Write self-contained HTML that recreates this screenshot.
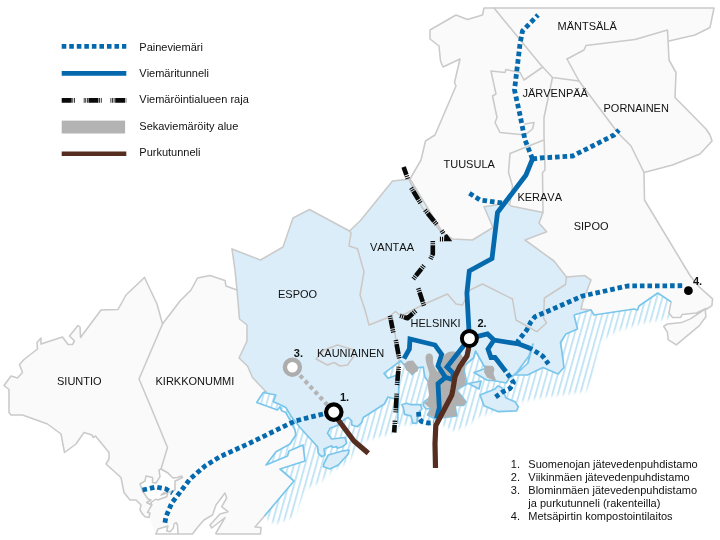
<!DOCTYPE html>
<html><head><meta charset="utf-8">
<style>
html,body{margin:0;padding:0;background:#fff;}
body{width:720px;height:540px;overflow:hidden;position:relative;font-family:"Liberation Sans",sans-serif;}
svg{position:absolute;left:0;top:0;display:block;}
text{font-family:"Liberation Sans",sans-serif;font-size:11px;fill:#111;font-kerning:none;}
.b{font-weight:bold;}
.land{fill:#fafafa;stroke:none;}
.lb{fill:none;stroke:#cacaca;stroke-width:1.55;stroke-linejoin:round;stroke-linecap:round;}
.blue{fill:#daedf9;stroke:none;}
.ib{fill:none;stroke:#cdc7c4;stroke-width:1.5;stroke-linejoin:round;}
.coast{fill:none;stroke:#7ac6eb;stroke-width:1.7;stroke-linejoin:round;}
.isl{fill:#daedf9;stroke:#7ac6eb;stroke-width:1.7;stroke-linejoin:round;}
.sew{fill:#b0b0b0;stroke:none;}
.tun{fill:none;stroke:#0569ad;stroke-width:4.8;stroke-linejoin:miter;stroke-linecap:butt;}
.dot{fill:none;stroke:#0569ad;stroke-width:4.8;stroke-dasharray:4.6 2.94;stroke-linejoin:round;}
.gdot{fill:none;stroke:#b4b4b4;stroke-width:4.2;stroke-dasharray:4 3.3;}
.brn{fill:none;stroke:#562e20;stroke-width:5.2;stroke-linejoin:round;stroke-linecap:butt;}
.rj{fill:none;stroke:#0a0a0a;stroke-width:4.6;stroke-linejoin:round;stroke-linecap:butt;}
.raja{fill:none;stroke:#0a0a0a;stroke-width:4.8;stroke-dasharray:10 0.7 0.8 0.9 0.8 8.85 0.8 0.8 0.8 0.8 0.8 0.7;stroke-linejoin:round;}
</style></head><body>
<svg width="720" height="540" viewBox="0 0 720 540">
<defs>
<pattern id="hatch" width="5.35" height="10" patternUnits="userSpaceOnUse" patternTransform="rotate(15.5)">
<rect x="0" y="0" width="1.95" height="10" fill="#c3e4f5"/>
</pattern>
</defs>
<rect width="720" height="540" fill="#fff"/>

<!-- HATCH BAND -->
<defs>
<filter id="soft" x="-5%" y="-5%" width="110%" height="110%"><feGaussianBlur stdDeviation="1.4"/></filter>
<mask id="hm" maskUnits="userSpaceOnUse" x="0" y="0" width="720" height="540">
<rect width="720" height="540" fill="#000"/>
<polygon filter="url(#soft)" fill="#fff" points="256,395 258,470 264,517 275,524.5 293.5,517 306.5,489 321.5,481.5 332,471.5 346.5,463.5 365,441 392.5,433.5 402,425 412,425 436,423 441,424.5 455,431.5 469,424.5 480,416.5 491,413 518.5,402.5 543,397.5 565,394.5 586,391.5 593,378 598,355 601.5,341 616,331.5 640.5,324 672.5,317.5 673,300 657.5,291 630,300 590,305 560,330 520,340 470,345 400,355 380,372 360,410 320,425 290,405 270,390"/>
</mask>
</defs>
<rect x="240" y="280" width="450" height="260" fill="url(#hatch)" mask="url(#hm)"/>

<!-- LAND FILLS -->
<g id="land">
<!-- west land -->
<polygon class="land" points="144.5,277.5 126,295 118,309.5 101,310 80.5,337.5 80,327 78,325.5 69.5,336 74.5,341 72.5,344.5 68,344.5 62.5,337 41,344 41,338 37,342.5 37.5,349 24,359.5 19.5,364.5 22.5,372.5 17.5,378 11,376 4,385.5 9,389.5 9,412.5 11,415 22.5,415 47.5,424 61,434 64.5,452.5 76,444 84,432.5 92,435 93,437.5 95.5,436 109,452.5 109,459 106,464 121,477.5 124,492.5 130,500 136,500 141,505 140,510 142.5,514 145,516.7 149,517.5 156,534 158,529 168,526 173,524 176,522.5 177.5,525 178,534 192.5,534 198,526.7 204,520 212.5,515 216,505 225,493 226.7,498 221.7,506.7 228,511.7 220,514 210,525 211.7,528 225,517.5 216,533 216,534 260.5,534 261,527.5 255,527 264.5,516 294,481 280,469 305,461 303,445 289,451 287.5,456 266,465 276,451.7 290,444 295.8,435 295,430 290,420 285.8,412.5 281.7,410.8 280,406.7 277.5,410 256.7,402.5 263.3,392.5 266,391.7 252.5,377.5 247.5,366 239,358 247,341 247,325 239.5,319 237,290 226,286 225,280.5 210,275.5 197.5,278 191,290 180,301 162.5,324 157,304"/>
<!-- north/east land -->
<polygon class="land" points="484,8 714,8 710,27.5 695,35 669,41 669,60 676,72.5 675,97.5 706,129 710,135 712,141 700,154 672.5,165 644,172.5 644.5,200 686.7,270 690.4,276 699.3,287 712.6,298.9 711.9,305.6 705.2,310 705.9,316.7 699.3,325.6 676.3,344.8 668.1,339.6 667.4,332.2 663.7,326.3 667.4,324 681.5,322.6 690.4,318.9 705.9,308.5 696.3,313 682.2,314.4 680.7,317.4 672.6,317.4 668.9,313 671.1,301.9 657.8,293 639,306 637.5,310 634,309 594,315 591,310 581,309 582.5,302.5 591,280 584.5,275.5 566.5,277 561,270 554,261 525,240 546.7,231.7 539,223 543,212.5 511,206 508,203 501.7,204 484,206.7 493,227.5 472.5,240 452.5,239 442.5,232.5 410,179 421,160 425.5,141 435,135 456,86 454.5,82.5 460,59 443,67 440.5,61 439,46 430,39 430,30 456,15 467.5,19.5 482.5,15"/>
</g>

<!-- BLUE AREA -->
<g id="bluearea">
<polygon class="blue" points="232,249 260.5,260 283,247 293,218 309.5,209.5 349.5,231 360,221 371,207.5 392.5,181 410,179 442.5,232.5 452.5,239 472.5,240 493,227.5 484,206.7 501.7,204 508,203 511,206 543,212.5 539,223 546.7,231.7 525,240 554,261 561,270 566.5,277 584.5,275.5 591,280 582.5,302.5 581,309 591,310 574,315 577.5,329 566,334 560.5,342.5 561.7,350 564,367.5 558,374 543,367.5 527.5,375 515,375 528,363 533,344 529,356 517,372 514,375 510,377.5 506,383 496,381 486.7,380 474,372.5 485.5,368.5 475.5,351 473.5,358 464.5,365.5 464,370 467,384 458,389 457,391 460,394 466,402 463.6,405.4 455,405.4 456.7,415.8 441.4,418 437,421 434.4,418.6 427.5,415 431,408.5 426,409 423.3,405.4 424,402 429.6,397.8 430.3,396 429.6,383.6 424.7,376.7 423.3,367 418.5,367.6 412,374.6 404.6,365 403.3,364 400.8,360.8 384,373.4 388,378.3 395.5,375.5 399,378 398.5,399 395,399 388,397 384.4,404 363.3,417.5 361.7,422.5 357.5,426.7 351.7,425 351.7,420.8 348.3,417.5 345,419 336.7,425.8 330,428.3 327.5,433.3 331.7,439 345,437.5 346.7,443.3 342.5,446.7 337.5,448.3 336.7,446.7 332.5,447.5 331.7,445.8 324,449 325,455 321.7,456.7 318.3,453.3 317.5,446.7 300,427.5 294,420 290.8,415.8 285.8,407.5 282.5,405.8 273.3,401.7 275.8,395 263.3,392.5 266,391.7 252.5,377.5 247.5,366 239,358 247,341 247,325 239.5,319 237,290 235,270"/>
</g>

<!-- LAND BORDERS -->
<g id="borders">
<!-- siuntio outer -->
<polyline class="lb" points="144.5,277.5 126,295 118,309.5 101,310 80.5,337.5 80,327 78,325.5 69.5,336 74.5,341 72.5,344.5 68,344.5 62.5,337 41,344 41,338 37,342.5 37.5,349 24,359.5 19.5,364.5 22.5,372.5 17.5,378 11,376 4,385.5 9,389.5 9,412.5 11,415 22.5,415 47.5,424 61,434 64.5,452.5 76,444 84,432.5 92,435 93,437.5 95.5,436 109,452.5 109,459 106,464 121,477.5 124,492.5 130,500 136,500 141,505 140,510 142.5,514 145,516.7 149,517.5 150,513 147.5,512.5 151.7,505"/>
<polyline class="lb" points="144.5,277.5 157,304 162.5,324 139,379 150,405 167.5,447.5 161,469"/>
<polyline class="lb" points="162.5,324 180,301 191,290 197.5,278 210,275.5 225,280.5 226,286 237,290"/>
<polyline class="lb" points="232,249 235,270 237,290 239.5,319 247,325 247,341 239,358 247.5,366 252.5,377.5 266,391.7"/>
<!-- kirkkonummi bottom -->
<polyline class="lb" points="156,534 158,529 168,526 166.7,531 170,531.7 173.3,528 174,524 176,522.5 177.5,525 178,534"/>
<polyline class="lb" points="156,534 192.5,534 198,526.7 204,520 212.5,515 216,505 225,493 226.7,498 221.7,506.7 228,511.7 220,514 210,525 211.7,528 225,517.5 216,533 216,534 260.5,534 261,527.5 255,527 264.5,516"/>
<polygon points="161,469 159,470 160,476.7 156,483 152.5,482.5 152.5,477.5 146,476 145,481 140,484 142.5,491 148,499 151,500 146.7,502.5 151.7,505 151,502.5 156,499 157.5,500 166.7,496.7 167.5,494 164,492.5 161,495 175,490 175,481 177.5,480 182.5,477.5 181.7,476 177.5,477.5 173,478 168,473" fill="#fff" stroke="#c8c8c8" stroke-width="1.5" stroke-linejoin="round"/>
<!-- espoo / vantaa top -->
<polyline class="lb" points="232,249 260.5,260 283,247 293,218 309.5,209.5 349.5,231 360,221 371,207.5 392.5,181 410,179 442.5,232.5 452.5,239 472.5,240 493,227.5 484,206.7 501.7,204 508,203 511,206 543,212.5 539,223 546.7,231.7 525,240 554,261 561,270 566.5,277 584.5,275.5 591,280 582.5,302.5 581,309 591,310"/>
<!-- tuusula west/north -->
<polyline class="lb" points="410,179 421,160 425.5,141 435,135 456,86 454.5,82.5 460,59 443,67 440.5,61 439,46 430,39 430,30 456,15 467.5,19.5 482.5,15 484,8 714,8 710,27.5 695,35 669,41"/>
<!-- pornainen -->
<polyline class="lb" points="567,59 584,50 586,45.5 635,39.5 667.5,30 669,60 676,72.5 675,97.5 706,129 710,135 712,141 700,154 672.5,165 644,172.5 644.5,200 686.7,270 690.4,276 699.3,287 712.6,298.9 711.9,305.6 705.2,310 705.9,316.7 699.3,325.6 676.3,344.8 668.1,339.6 667.4,332.2 663.7,326.3 667.4,324 681.5,322.6 690.4,318.9 705.9,308.5 696.3,313 682.2,314.4 680.7,317.4 672.6,317.4 668.9,313 671.1,301.9"/>
<polyline class="lb" points="567,59 579,81 615,129 620,135 631,146 644,172.5"/>
<!-- mantsala/tuusula diagonal -->
<polyline class="lb" points="494,8 540,64 552.5,77.5 579,81"/>
<polyline class="lb" points="552.5,77.5 544,117.5 544,135 545,170 542.5,172.5 543,212.5"/>
<!-- jarvenpaa -->
<polyline class="lb" points="542,67.5 524,80 520,72.5 506,69.5 505,72.5 491,71 496,94 492.5,96 497,117.5 495,122.5 500,132.5 525,135 532.5,129 534,122.5 525,124"/>
<!-- kerava -->
<polyline class="lb" points="543.8,140 510,153.5 508.5,172.5 512.5,186 510,203"/>
</g>

<!-- INTERNAL BORDERS IN BLUE -->
<g id="ib">
<polyline class="ib" points="349.5,231 351,233 349,246 357.5,248.7 364,271.7 360,295 365,310 369,325 388,317.5 395.5,311.5 401,316 422.5,305 447.5,294 456,304 462.5,305 470,290 482.5,284 512.5,299 516,320 536.7,331.7 546.5,323 543.5,318 544.4,298 565.5,284.5 566.5,277"/>
<polyline class="ib" points="388,317.5 392.5,320 396,340 399,357.5 398.5,378"/>
<polyline class="ib" points="408.5,178.5 421.7,207 441,232"/>
<polygon class="ib" points="316,359 324,350 337.5,345 352.5,349.5 354,356 347.5,365 340,366 334,362.5 327.5,365"/>
</g>


<!-- COAST -->
<g id="coast">
<polygon points="263.3,392.5 275.8,395 273.3,401.7 282.5,405.8 277.5,410 256.7,402.5" fill="#fff"/>
<polygon points="263.3,392.5 275.8,395 273.3,401.7 282.5,405.8 277.5,410 256.7,402.5" fill="url(#hatch)"/>
<polyline class="coast" points="574,315 577.5,329 566,334 560.5,342.5 561.7,350 564,367.5 558,374 543,367.5 527.5,375 515,375 528,363 533,344 529,356 517,372 514,375 510,377.5 506,383 496,381 486.7,380 474,372.5 485.5,368.5 475.5,351 473.5,358 464.5,365.5 464,370 467,384 458,389 457,391 460,394 466,402 463.6,405.4 455,405.4 456.7,415.8 441.4,418 437,421 434.4,418.6 427.5,415 431,408.5 426,409 423.3,405.4 424,402 429.6,397.8 430.3,396 429.6,383.6 424.7,376.7 423.3,367 418.5,367.6 412,374.6 404.6,365 403.3,364 400.8,360.8 384,373.4 388,378.3 395.5,375.5 399,378 398.5,399 395,399 388,397 384.4,404 363.3,417.5 361.7,422.5 357.5,426.7 351.7,425 351.7,420.8 348.3,417.5 345,419 336.7,425.8 330,428.3 327.5,433.3 331.7,439 345,437.5 346.7,443.3 342.5,446.7 337.5,448.3 336.7,446.7 332.5,447.5 331.7,445.8 324,449 325,455 321.7,456.7 318.3,453.3 317.5,446.7 300,427.5 294,420 290.8,415.8 285.8,407.5 282.5,405.8 273.3,401.7 275.8,395 263.3,392.5"/>
<polyline class="coast" points="266,391.7 263.3,392.5 256.7,402.5 277.5,410 280,406.7 281.7,410.8 285.8,412.5 290,420 295,430 295.8,435 290,444 276,451.7 266,465 287.5,456 289,451 303,445 305,461 280,469 294,481 264.5,516"/>
<polyline class="coast" points="398.5,399 397.6,424"/>
<polyline class="coast" points="671.1,301.9 657.8,293 639,306 637.5,310 634,309 594,315 591,310 574,315"/>
<!-- islands -->
<polygon class="isl" points="324,463.3 328.3,455 343.3,450.8 349,450 348.3,454 338.3,465 330,469 323.3,466.7"/>
<polygon class="isl" points="401.8,404.7 406.7,403.3 410.8,404.7 420.5,404.7 422,409 417.8,413 417,422.8 413,423.5 410.8,415.8 404.6,414.4 403.2,407.5"/>
<polygon class="isl" points="480,395 495,389 497.5,386 501.7,387.5 506,398 515,401.7 518.3,406.7 516.7,410.8 498.3,411.7 484,405.8"/>
<polygon class="isl" points="468.5,383.5 481,381 479,389"/>
</g>
<!-- SEWERED AREAS -->
<g id="sew">
<polygon class="sew" points="404,364 408,361 413,360.5 418,367 418,371 412,374.5 406,370"/>
<path class="sew" d="M429,353.5 C432.5,353 433.5,357 433,361 C433,367 438,372 438,372 L438,405 L436,418 L431,416 L427.5,415 L431,409 L424,403 L427.5,401 L429,395 L427.5,384 L429.5,374 C428,368 425.5,362 425.5,358 C425.5,355 427,353.5 429,353.5Z"/>
<path class="sew" d="M449.7,351.7 C456,351 462,353 463,358 L465,366 L464,372 L466,384 L458,389 L457,391 L460,394 L466,402 L463.6,405.4 L455,405.4 L456.7,415.8 L441.4,418 L438,418 L438,372 L441,366 C442,360 443.5,353 449.7,351.7Z"/>
<path class="sew" d="M485,365.5 L493,366 L494.5,369 L493.5,374 L496,380 L494,380.5 L487,377.5 L484,372Z"/>
</g>

<!-- SEWER NETWORK -->
<g id="raja">
<polyline class="rj" stroke-dasharray="8.38 0.90 1.10 1.00 1.10 300.00" points="403.6,167.0 407.8,178.8"/>
<polyline class="rj" stroke-dasharray="1.10 1.00 1.10 0.90 9.59 0.90 1.10 1.00 1.10 300.00" points="411.2,187.8 420.5,203.0"/>
<polyline class="rj" stroke-dasharray="1.10 1.00 1.10 0.90 10.35 0.90 1.10 1.00 1.10 300.00" points="425.0,210.0 436.7,224.4"/>
<polyline class="rj" stroke-dasharray="1.10 1.00 1.10 0.90 10.20 0.90 1.10 1.00 1.10 300.00" points="432.8,241.1 432.8,254.0 430.5,259.0"/>
<polyline class="rj" stroke-dasharray="1.10 1.00 1.10 0.90 9.03 0.90 1.10 1.00 1.10 300.00" points="424.0,265.5 413.3,279.0"/>
<polyline class="rj" stroke-dasharray="1.10 1.00 1.10 0.90 10.20 0.90 1.10 1.00 1.10 300.00" points="418.3,288.3 424.0,305.8"/>
<polyline class="rj" stroke-dasharray="1.10 1.00 1.10 0.90 10.89 0.90 1.10 1.00 1.10 300.00" points="415.8,310.8 407.5,318.3 400.0,315.8"/>
<polyline class="rj" stroke-dasharray="1.10 1.00 1.10 0.90 8.82 0.90 1.10 1.00 1.10 300.00" points="390.0,315.8 393.3,332.5"/>
<polyline class="rj" stroke-dasharray="1.10 1.00 1.10 0.90 10.41 0.90 1.10 1.00 1.10 300.00" points="395.8,340.0 399.2,358.3"/>
<polyline class="rj" stroke-dasharray="1.10 1.00 1.10 0.90 10.18 0.90 1.10 1.00 1.10 300.00" points="398.7,366.7 397.0,385.0"/>
<polyline class="rj" stroke-dasharray="1.10 1.00 1.10 0.90 10.63 0.90 1.10 1.00 1.10 300.00" points="396.7,393.6 395.6,412.4"/>
<polyline class="rj" stroke-dasharray="1.10 1.00 1.10 0.90 7.72 300.00" points="394.9,420.7 394.2,432.5"/>
<polyline class="rj" stroke-dasharray="1.1 1.0 1.1 300" points="441.6,230.6 444.8,235.4"/>
<polygon points="444.3,235.6 447,233.9 452.2,241.2 444,241.2" fill="#0a0a0a"/>
<polyline class="rj" stroke-dasharray="0 0.9 1.1 1.0 1.1 300" points="444,239.1 438.8,239.1"/>
</g>
<g id="net">
<polyline class="dot" points="532.5,159 525,140 524,135 520,115 514.5,90 520,44 522.5,31 538,15"/>
<polyline class="dot" points="532.5,159 540,158 572.5,156 592.5,146 614,135 619,130"/>
<polyline class="dot" points="502,203 480,200 469,193"/>
<polyline class="dot" points="519,344 518,341 526.7,330 531,321.7 535,316.7 546.7,311.7 582.5,296 627.5,286 682.2,285.7"/>
<polyline class="dot" points="529.5,348 536.7,352.2 542.8,356.3 548.5,364" stroke-dashoffset="1.54"/>
<polyline class="dot" points="505.5,371 509.5,376.5 513.5,382.5 510,388.5 503,391.7 495.5,397" stroke-dashoffset="4.24"/>
<polyline class="dot" points="323,414 295,421 250,443 220,456.7 205,466 190,479 181,491 171.7,503 166,516.7 164.7,524"/>
<polyline class="dot" points="142.5,490 156,487 166,489 172.5,493"/>
<polyline class="dot" points="418.5,412 419,418 421.5,421.5 428,423 434,422.5"/>
<polyline class="gdot" points="292.4,367.2 333.9,412" stroke-dashoffset="3.4"/>
<polyline class="tun" points="532.5,159 526,175 497.5,212.5 492,258.5 469.3,271 466.9,293 469.4,338.5"/>
<polyline class="tun" points="469.5,338.3 487.5,334 494,340 519,344 530,348.2"/>
<polyline class="tun" points="494,340 488,349 491,357.5 495,357.5 505.8,371.5"/>
<polyline class="tun" points="404,358.6 409.4,349 410,339 435,345 441.7,354.4 438,366 445.5,377.4 454,380"/>
<polyline class="tun" points="445.5,377.4 438,383.6 438.6,395 439.3,407.5 436.5,418.6"/>
<polyline class="tun" points="469.5,338.3 447,367 453,373 453,379.5"/>
<polyline class="brn" points="469.5,340 468.5,349 467,356 459.5,367 455,376.7 453,389 451.8,395 435.8,425.5 435,443.6 435.5,468"/>
<polyline class="brn" points="336,416 338.3,420 354,441 368.3,453.3"/>
<circle cx="469.4" cy="338.5" r="7.5" fill="#fff" stroke="#000" stroke-width="4"/>
<circle cx="333.8" cy="412.1" r="7.7" fill="#fff" stroke="#000" stroke-width="4.2"/>
<circle cx="292.4" cy="367.2" r="7.5" fill="#fff" stroke="#adadad" stroke-width="4.4"/>
<circle cx="688.4" cy="290.7" r="4.4" fill="#000"/>
</g>

<!-- LEGEND -->
<g id="legend" style="opacity:0.999">
<line x1="61.7" y1="46.4" x2="126.3" y2="46.4" class="dot"/>
<line x1="61.7" y1="73.4" x2="126.3" y2="73.4" class="tun"/>
<line x1="61.7" y1="100.3" x2="126.3" y2="100.3" class="raja"/>
<rect x="61.7" y="120.6" width="63.4" height="12.9" fill="#b3b3b3"/>
<line x1="61.7" y1="153.75" x2="126.3" y2="153.75" class="brn" style="stroke-width:4.6"/>
<text x="139.3" y="50.6">Paineviemäri</text>
<text x="139.3" y="77">Viemäritunneli</text>
<text x="139.3" y="102.6">Viemäröintialueen raja</text>
<text x="139.3" y="129.9">Sekaviemäröity alue</text>
<text x="139.3" y="155.9">Purkutunneli</text>
</g>

<!-- LABELS -->
<g id="labels" style="opacity:0.999">
<text x="557.5" y="30">MÄNTSÄLÄ</text>
<text x="522.5" y="96.5">JÄRVENPÄÄ</text>
<text x="603.5" y="111.5">PORNAINEN</text>
<text x="443.5" y="168">TUUSULA</text>
<text x="517.4" y="200.8">KERAVA</text>
<text x="573.7" y="229.7">SIPOO</text>
<text x="370" y="251">VANTAA</text>
<text x="278" y="297.5">ESPOO</text>
<text x="410.5" y="327">HELSINKI</text>
<text x="317" y="357">KAUNIAINEN</text>
<text x="57" y="385">SIUNTIO</text>
<text x="155.5" y="385">KIRKKONUMMI</text>
<text class="b" x="477.5" y="326.5">2.</text>
<text class="b" x="340" y="401">1.</text>
<text class="b" x="293.8" y="356.5">3.</text>
<text class="b" x="693" y="285">4.</text>
<text x="510.8" y="467.5">1.</text><text x="528.3" y="467.5">Suomenojan jätevedenpuhdistamo</text>
<text x="510.8" y="480.5">2.</text><text x="528.3" y="480.5">Viikinmäen jätevedenpuhdistamo</text>
<text x="510.8" y="493.5">3.</text><text x="528.3" y="493.5">Blominmäen jätevedenpuhdistamo</text>
<text x="528.3" y="506.5">ja purkutunneli (rakenteilla)</text>
<text x="510.8" y="519.5">4.</text><text x="528.3" y="519.5">Metsäpirtin kompostointilaitos</text>
</g>
</svg>
</body></html>
